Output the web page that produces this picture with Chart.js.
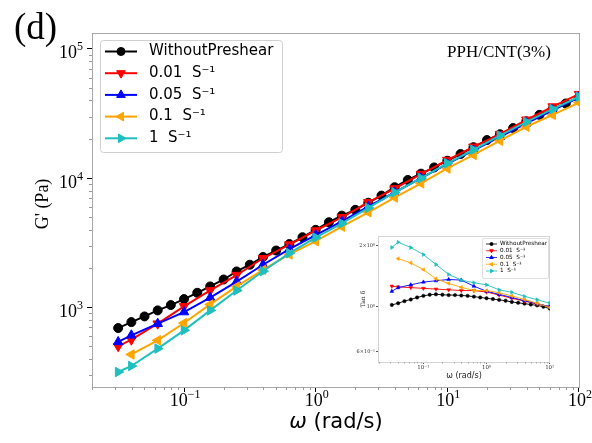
<!DOCTYPE html>
<html><head><meta charset="utf-8">
<script src="https://cdn.jsdelivr.net/npm/chart.js@4/dist/chart.umd.min.js"></script>
<style>
html,body{margin:0;padding:0;background:#fff;}
#wrap{position:relative;width:592px;height:443px;overflow:hidden;}
#main{position:absolute;left:0;top:0;}
#inset{position:absolute;left:356px;top:228px;}
</style></head><body>
<div id="wrap"><canvas id="main" width="592" height="443"></canvas><canvas id="inset" width="200" height="156"></canvas></div>
<script>
// ---------- main chart data: G' (Pa) vs omega (rad/s) ----------
const freqAll = [0.0316,0.0398,0.0501,0.0631,0.0794,0.1,0.126,0.158,0.2,0.251,0.316,0.398,0.501,0.631,0.794,1,1.26,1.58,2,2.51,3.16,3.98,5.01,6.31,7.94,10,12.6,15.8,20,25.1,31.6,39.8,50.1,63.1,79.4,100];
const freqShear = [0.0316,0.0398,0.0631,0.1,0.158,0.251,0.398,0.631,1,1.58,2.51,3.98,6.31,10,15.8,25.1,39.8,63.1,100];
const gWithout = [692,769,851,948,1042,1159,1297,1452,1644,1897,2138,2455,2754,3090,3491,3981,4560,5129,5689,6457,7328,8511,9683,10839,12106,13646,15382,17378,19724,21878,24434,27542,30903,34277,37844,42170];
const g001 = [500,562,748,1019,1352,1778,2399,3062,3936,4977,6501,8318,10765,13804,17498,21928,28314,35810,44668];
const g005 = [540,608,748,920,1189,1585,2138,2818,3631,4624,6026,7762,10000,12882,16406,20893,26607,33497,42170];
const g01  = [null,432,556,757,1054,1452,1950,2570,3251,4217,5445,7079,9120,11885,15136,19498,25003,30903,38459];
const g1   = [316,352,480,664,948,1352,1905,2630,3467,4467,5888,7762,10000,13032,16596,21380,27227,34198,42658];
const seriesLabels = ['WithoutPreshear','0.01  S\u207B\u00B9','0.05  S\u207B\u00B9','0.1  S\u207B\u00B9','1  S\u207B\u00B9'];
const xTicks = [0.1,1,10,100];
const yTicks = [1000,10000,100000];

// ---------- inset data: tan delta vs omega ----------
const inFreqAll = [0.0316,0.0398,0.0501,0.0631,0.0794,0.1,0.126,0.158,0.2,0.251,0.316,0.398,0.501,0.631,0.794,1,1.26,1.58,2,2.51,3.16,3.98,5.01,6.31,7.94,10];
const inFreqShear = [0.0316,0.0398,0.0631,0.1,0.158,0.251,0.398,0.631,1,1.58,2.51,3.98,6.31,10];
const tanWithout = [1.02,1.04,1.065,1.085,1.11,1.13,1.145,1.15,1.145,1.14,1.14,1.135,1.13,1.12,1.11,1.10,1.09,1.08,1.07,1.055,1.045,1.035,1.025,1.015,1.0,0.98];
const tan001 = [1.26,1.25,1.24,1.23,1.22,1.21,1.20,1.20,1.18,1.14,1.10,1.065,1.03,1.0];
const tan005 = [1.19,1.24,1.28,1.32,1.34,1.36,1.35,1.26,1.19,1.15,1.11,1.07,1.035,1.0];
const tan01  = [null,1.72,1.64,1.52,1.37,1.30,1.245,1.20,1.20,1.17,1.13,1.085,1.04,0.99];
const tan1   = [1.95,2.07,1.95,1.80,1.61,1.44,1.35,1.31,1.28,1.21,1.176,1.124,1.083,1.04];
const inXTicks = [0.1,1,10];
const inYTicks = [0.6,1,2];
const inYLabels = ['6\u00D710\u207B\u00B9','10\u2070','2\u00D710\u2070'];

const colors = ['#000000','#ff0000','#0000ff','#ffa500','#1fbfbf'];
const styles = [['circle',0],['triangle',180],['triangle',0],['triangle',270],['triangle',90]];

const SUP = {'-':'\u207B','0':'\u2070','1':'\u00B9','2':'\u00B2','3':'\u00B3','4':'\u2074','5':'\u2075','6':'\u2076','7':'\u2077','8':'\u2078','9':'\u2079'};
function pow10(v){const e=Math.round(Math.log10(v));return '10'+String(e).split('').map(c=>SUP[c]).join('');}
function pts(xs,ys){const o=[];xs.forEach((x,i)=>{if(ys[i]!=null)o.push({x:x,y:ys[i]});});return o;}

function mkDs(i,xs,ys,rCirc,rTri,bw){
  return {label:seriesLabels[i],data:pts(xs,ys),borderColor:colors[i],backgroundColor:colors[i],
    pointStyle:styles[i][0],rotation:styles[i][1],pointRadius:styles[i][0]==='circle'?rCirc:rTri,
    pointBorderWidth:1,borderWidth:bw,tension:0,order:5-i};
}

function minorTicks(ctx,scale,axis,len,color){
  const lo=Math.floor(Math.log10(scale.min)),hi=Math.ceil(Math.log10(scale.max));
  ctx.save();ctx.strokeStyle=color;ctx.lineWidth=1;ctx.beginPath();
  for(let e=lo;e<=hi;e++){for(let k=2;k<=9;k++){const v=k*Math.pow(10,e);
    if(v<scale.min||v>scale.max)continue;const p=Math.round(scale.getPixelForValue(v))+0.5;
    if(axis==='x'){ctx.moveTo(p,scale.top);ctx.lineTo(p,scale.top+len);}else{ctx.moveTo(scale.right,p);ctx.lineTo(scale.right-len,p);}}}
  ctx.stroke();ctx.restore();
}

function powLabel(ctx,v,x,y,align){
  const e=String(Math.round(Math.log10(v))).replace('-','\u2212');
  ctx.font='18px "Liberation Serif"';const wb=ctx.measureText('10').width;
  ctx.font='12px "Liberation Serif"';const we=ctx.measureText(e).width;
  const tot=wb+we;const x0=align==='right'?x-tot:x-tot/2;
  ctx.textAlign='left';ctx.textBaseline='alphabetic';ctx.fillStyle='#000';
  ctx.font='18px "Liberation Serif"';ctx.fillText('10',x0,y);
  ctx.font='12px "Liberation Serif"';ctx.fillText(e,x0+wb,y-8);
}

function drawLegend(ctx,box,rows,opt){
  ctx.save();
  ctx.fillStyle='rgba(255,255,255,0.85)';ctx.strokeStyle=opt.boxColor;ctx.lineWidth=1;
  ctx.beginPath();
  if(ctx.roundRect)ctx.roundRect(box.x+0.5,box.y+0.5,box.w,box.h,opt.radius);else ctx.rect(box.x+0.5,box.y+0.5,box.w,box.h);
  ctx.fill();ctx.stroke();
  rows.forEach((lab,i)=>{const yy=opt.y0+i*opt.step;
    ctx.strokeStyle=colors[i];ctx.lineWidth=opt.lw;ctx.beginPath();ctx.moveTo(opt.l0,yy);ctx.lineTo(opt.l1,yy);ctx.stroke();
    ctx.fillStyle=colors[i];ctx.strokeStyle=colors[i];ctx.lineWidth=1;
    Chart.helpers.drawPoint(ctx,{pointStyle:styles[i][0],rotation:styles[i][1],radius:styles[i][0]==='circle'?opt.rc:opt.rt,borderWidth:1},(opt.l0+opt.l1)/2,yy);
    ctx.fillStyle='#000';ctx.font=opt.font;ctx.textBaseline='middle';ctx.textAlign='left';ctx.fillText(lab,opt.tx,yy+opt.dy);
  });
  ctx.restore();
}

const mainDeco={id:'mainDeco',
  beforeDraw(c){const ctx=c.ctx;ctx.save();ctx.fillStyle='#fff';ctx.fillRect(0,0,c.width,c.height);ctx.restore();},
  afterDraw(c){
    const ctx=c.ctx,a=c.chartArea,sx=c.scales.x,sy=c.scales.y;
    ctx.save();ctx.strokeStyle='#a8a8a8';ctx.lineWidth=1;
    ctx.strokeRect(a.left+0.5,a.top+0.5,a.right-a.left-1,a.bottom-a.top);ctx.restore();
    minorTicks(ctx,sx,'x',3,'#999');
    minorTicks(ctx,sy,'y',3,'#999');
    ctx.save();
    xTicks.forEach(v=>powLabel(ctx,v,sx.getPixelForValue(v)+1,406,'center'));
    yTicks.forEach(v=>powLabel(ctx,v,83,sy.getPixelForValue(v)+9.5,'right'));
    ctx.restore();
    drawLegend(ctx,{x:100,y:40,w:182,h:112},seriesLabels,{boxColor:'#d0d0d0',radius:3,y0:51.5,step:21.7,l0:105,l1:137,lw:2,rc:4,rt:5,tx:149,font:'15px "DejaVu Sans"',dy:0});
    ctx.save();ctx.fillStyle='#000';
    ctx.font='37px "Liberation Serif"';ctx.textBaseline='alphabetic';ctx.textAlign='left';ctx.fillText('(d)',14,39);
    ctx.font='17px "Liberation Serif"';ctx.textBaseline='middle';ctx.fillText('PPH/CNT(3%)',447,53);
    ctx.save();ctx.translate(43,204);ctx.rotate(-Math.PI/2);ctx.font='18px "Liberation Serif"';ctx.textAlign='center';ctx.textBaseline='middle';ctx.fillText("G' (Pa)",0,0);ctx.restore();
    ctx.font='italic 21px "DejaVu Sans"';const w1=ctx.measureText('\u03C9').width;
    ctx.font='21px "DejaVu Sans"';const w2=ctx.measureText(' (rad/s)').width;
    const cx=(a.left+a.right)/2,x0=cx-(w1+w2)/2;
    ctx.textBaseline='middle';ctx.textAlign='left';
    ctx.font='italic 21px "DejaVu Sans"';ctx.fillText('\u03C9',x0,423);
    ctx.font='21px "DejaVu Sans"';ctx.fillText(' (rad/s)',x0+w1,423);
    ctx.restore();
  }};

new Chart(document.getElementById('main'),{
  type:'line',
  data:{datasets:[mkDs(0,freqAll,gWithout,4.5,5.5,2),mkDs(1,freqShear,g001,4.5,5.5,2),mkDs(2,freqShear,g005,4.5,5.5,2),mkDs(3,freqShear,g01,4.5,5.5,2),mkDs(4,freqShear,g1,4.5,5.5,2)]},
  options:{responsive:false,animation:false,events:[],devicePixelRatio:1,
    layout:{padding:{top:33,right:12,left:0,bottom:0}},
    plugins:{legend:{display:false},tooltip:{enabled:false}},
    scales:{
      x:{type:'logarithmic',min:0.02,max:101.8,
        afterBuildTicks:s=>{s.ticks=xTicks.map(v=>({value:v}));},
        afterFit:s=>{s.height=56;},
        ticks:{display:false,autoSkip:false,maxRotation:0,callback:v=>pow10(v)},
        grid:{display:true,drawOnChartArea:false,drawTicks:true,tickLength:5,tickColor:'#000'},border:{display:false},title:{display:false}},
      y:{type:'logarithmic',min:242,max:132900,
        afterBuildTicks:s=>{s.ticks=yTicks.map(v=>({value:v}));},
        afterFit:s=>{s.width=92;},
        ticks:{display:false,autoSkip:false,callback:v=>pow10(v)},
        grid:{display:true,drawOnChartArea:false,drawTicks:true,tickLength:5,tickColor:'#000'},border:{display:false},title:{display:false}}
    }},
  plugins:[mainDeco]
});

// ---------- inset ----------
const insetDeco={id:'insetDeco',
  beforeDraw(c){const ctx=c.ctx;ctx.save();ctx.fillStyle='#fff';ctx.fillRect(0,0,c.width,c.height);ctx.restore();},
  beforeDatasetsDraw(c){const ctx=c.ctx,a=c.chartArea;ctx.save();ctx.strokeStyle='#d4d4d4';ctx.lineWidth=1;
    ctx.strokeRect(a.left+0.5,a.top+0.5,a.right-a.left-1,a.bottom-a.top);ctx.restore();
    minorTicks(ctx,c.scales.x,'x',1.5,'#aaa');},
  afterDraw(c){const ctx=c.ctx,a=c.chartArea;
    drawLegend(ctx,{x:126,y:10,w:66,h:40},seriesLabels,{boxColor:'#e0e0e0',radius:1.5,y0:16,step:6.75,l0:130,l1:141,lw:0.8,rc:1.5,rt:2,tx:144,font:'5.7px "DejaVu Sans"',dy:0});
    ctx.save();ctx.fillStyle='#222';
    ctx.save();ctx.translate(7,(a.top+a.bottom)/2);ctx.rotate(-Math.PI/2);ctx.font='6px "DejaVu Serif"';ctx.textAlign='center';ctx.textBaseline='middle';ctx.fillText('Tan \u03B4',0,0);ctx.restore();
    ctx.font='8px "DejaVu Sans"';ctx.textAlign='center';ctx.textBaseline='middle';ctx.fillText('\u03C9 (rad/s)',(a.left+a.right)/2,148);
    ctx.restore();}};

function inDs(i,xs,ys){const d=mkDs(i,xs,ys,1.7,2.2,0.9);d.pointBorderWidth=0.5;return d;}
new Chart(document.getElementById('inset'),{
  type:'line',
  data:{datasets:[inDs(0,inFreqAll,tanWithout),inDs(1,inFreqShear,tan001),inDs(2,inFreqShear,tan005),inDs(3,inFreqShear,tan01),inDs(4,inFreqShear,tan1)]},
  options:{responsive:false,animation:false,events:[],devicePixelRatio:1,
    layout:{padding:{top:8,right:6,left:0,bottom:0}},
    plugins:{legend:{display:false},tooltip:{enabled:false}},
    scales:{
      x:{type:'logarithmic',min:0.0191,max:10.1,
        afterBuildTicks:s=>{s.ticks=inXTicks.map(v=>({value:v}));},
        afterFit:s=>{s.height=22;},
        ticks:{autoSkip:false,maxRotation:0,padding:0,color:'#333',font:{family:'"DejaVu Serif"',size:5.5},callback:v=>pow10(v)},
        grid:{display:true,drawOnChartArea:false,drawTicks:true,tickLength:2,tickColor:'#555'},border:{display:false}},
      y:{type:'logarithmic',min:0.536,max:2.22,
        afterBuildTicks:s=>{s.ticks=inYTicks.map(v=>({value:v}));},
        afterFit:s=>{s.width=22;},
        ticks:{autoSkip:false,padding:1,color:'#333',font:{family:'"DejaVu Serif"',size:5},callback:(v,i)=>inYLabels[i]},
        grid:{display:true,drawOnChartArea:false,drawTicks:true,tickLength:2,tickColor:'#555'},border:{display:false}}
    }},
  plugins:[insetDeco]
});
</script>
</body></html>
